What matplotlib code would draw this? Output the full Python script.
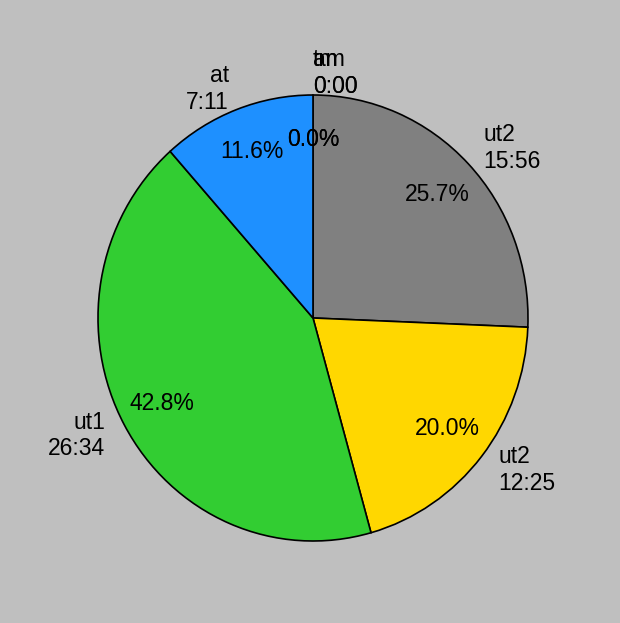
import matplotlib
matplotlib.use("Agg")
import matplotlib.pyplot as plt

labels = ["am", "tm", "ut2", "ut2", "ut1", "at"]
times = ["0:00", "0:00", "15:56", "12:25", "26:34", "7:11"]
minutes = [0, 0, 956, 745, 1594, 431]
colors = ["#FF0000", "#FF00FF", "#808080", "#FFD700", "#32CD32", "#1E90FF"]

plt.rcParams['font.family'] = ['Liberation Sans', 'DejaVu Sans']

fig = plt.figure(figsize=(6.2, 6.23), dpi=100, facecolor="#BFBFBF")
W, H = 620, 623
cx, cy, rx, ry = 313, 318, 215, 223
half = 300
ax = fig.add_axes([(cx - half) / W, (H - cy - half) / H, 2 * half / W, 2 * half / H])
ax.set_facecolor("#BFBFBF")

full_labels = [f"{l}\n{t}" for l, t in zip(labels, times)]
wedges, texts, autotexts = ax.pie(
    minutes, labels=full_labels, colors=colors, autopct="%1.1f%%",
    startangle=90, counterclock=False, pctdistance=0.8, labeldistance=1.1,
    wedgeprops=dict(edgecolor="black", linewidth=1.2),
    textprops=dict(fontsize=16.5, color="black"))
for i, m in enumerate(minutes):
    if m == 0:
        texts[i].set_ha('left')
ax.set_xlim(-half / rx, half / rx)
ax.set_ylim(-half / ry, half / ry)
ax.set_aspect('auto')
ax.axis('off')

fig.savefig("out.png", dpi=100, facecolor=fig.get_facecolor())
